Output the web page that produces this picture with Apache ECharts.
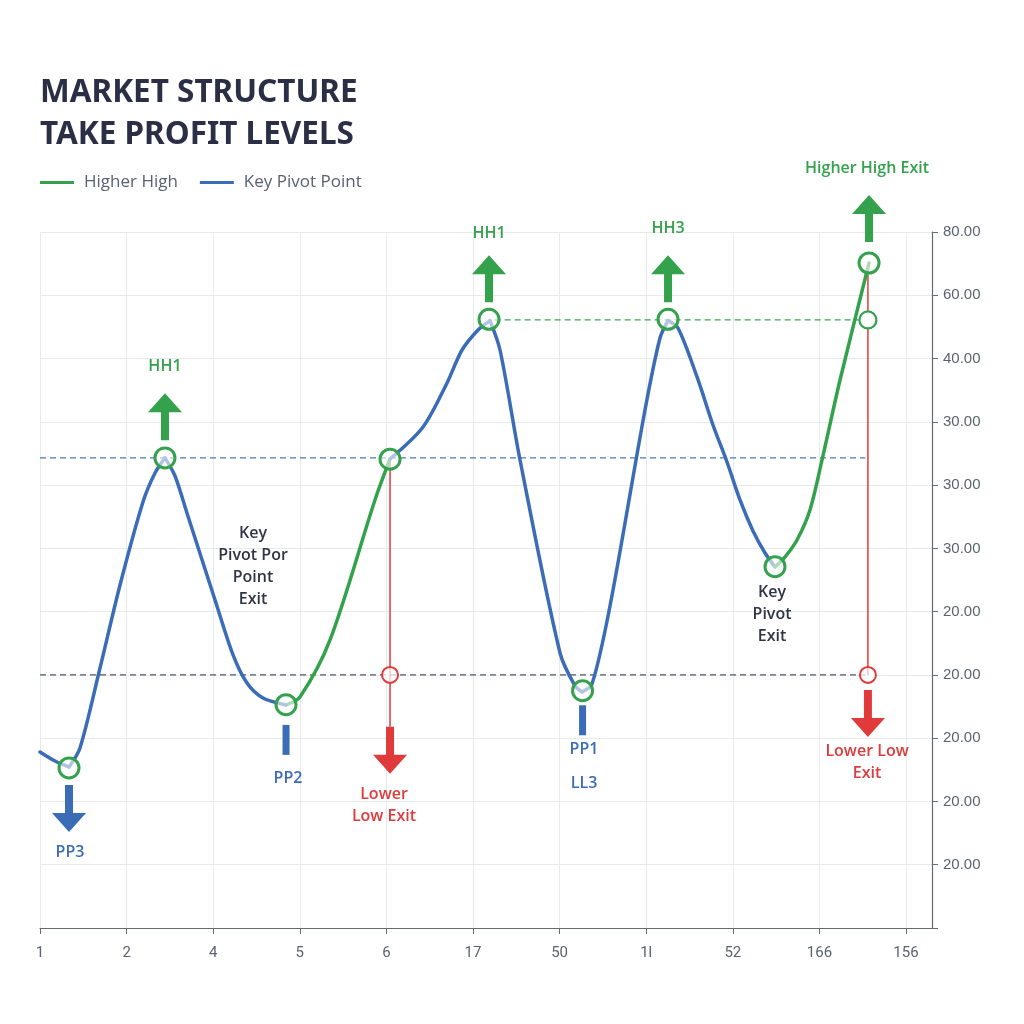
<!DOCTYPE html>
<html>
<head>
<meta charset="utf-8">
<script src="https://cdn.jsdelivr.net/npm/echarts@6/dist/echarts.min.js"></script>
<style>html,body{margin:0;padding:0;background:#fff}#chart{width:1024px;height:1024px}</style>
</head>
<body>
<div id="chart"></div>
<script>
// ---- data ----
const xTickLabels = ['1','2','4','5','6','17','50','1l','52','166','156'];
const yTickLabels = ['','20.00','20.00','20.00','20.00','20.00','30.00','30.00','30.00','40.00','60.00','80.00'];

// price path, split at the marked swing points
const keyPivotA = [[0,2.782],[0.173,2.639],[0.335,2.545]];
const keyPivotB = [[0.335,2.545],[0.462,2.845],[0.693,4.109],[0.924,5.421],[1.189,6.733],[1.328,7.191],[1.443,7.43]];
const keyPivotC = [[1.443,7.43],[1.559,7.144],[1.697,6.559],[2.021,5.184],[2.229,4.315],[2.39,3.872],[2.575,3.635],[2.841,3.525]];
const higherHighA = [[2.841,3.525],[3.002,3.651],[3.349,4.552],[3.868,6.765],[4.042,7.413]];
const keyPivotD = [[4.042,7.413],[4.423,7.918],[4.70,8.614],[4.873,9.135],[5.058,9.452],[5.196,9.6]];
const keyPivotE = [[5.196,9.6],[5.312,9.135],[5.543,7.397],[6.005,4.346],[6.178,3.825],[6.259,3.73]];
const keyPivotF = [[6.259,3.73],[6.374,3.856],[6.582,5.089],[6.986,8.187],[7.159,9.325],[7.252,9.6]];
const keyPivotG = [[7.252,9.6],[7.367,9.483],[7.587,8.709],[7.771,7.95],[7.933,7.365],[8.083,6.765],[8.233,6.275],[8.372,5.927],[8.487,5.706]];
const higherHighB = [[8.487,5.706],[8.603,5.864],[8.741,6.132],[8.891,6.607],[9.03,7.397],[9.238,8.661],[9.573,10.51]];

const pivotMarkers = [[0.335,2.53],[1.443,7.43],[2.841,3.53],[4.042,7.41],[5.185,9.62],[6.265,3.75],[7.252,9.62],[8.487,5.71],[9.573,10.51]];
const exitMarkersGreen = [[9.56,9.61]];
const exitMarkersRed = [[4.042,4.0],[9.56,4.0]];

const levelBlue = [[0,7.43],[9.53,7.43]];
const levelGray = [[0,4.0],[9.53,4.0]];
const levelGreen = [[5.25,9.61],[9.53,9.61]];
const redDrop1 = [[4.042,7.41],[4.042,3.18]];
const redDrop2 = [[9.56,10.51],[9.56,4.0]];

// arrows: [x, tailY, direction(1 up, -1 down), kind]
const arrows = [[1.443,7.71,1,'green'],[5.185,9.89,1,'green'],[7.252,9.89,1,'green'],[9.573,10.84,1,'green'],[0.335,2.26,-1,'blue'],[4.042,3.18,-1,'red'],[9.56,3.76,-1,'red']];
// bars: [x, topY, kind]
const bars = [[2.841,3.21,'blue'],[6.265,3.52,'blue']];

// annotations: [x, y, text, kind]
const annotations = [
  [1.443,8.88,'HH1','green'],
  [5.185,10.97,'HH1','green'],
  [7.252,11.05,'HH3','green'],
  [9.55,12.01,'Higher High Exit','green'],
  [0.346,1.20,'PP3','blue'],
  [2.864,2.37,'PP2','blue'],
  [6.282,2.83,'PP1','blue'],
  [6.282,2.29,'LL3','blue'],
  [3.972,1.94,'Lower\nLow Exit','red'],
  [9.55,2.62,'Lower Low\nExit','red'],
  [2.46,5.72,'Key\nPivot Por\nPoint\nExit','dark'],
  [8.453,4.96,'Key\nPivot\nExit','dark']
];

// ---- styles ----
const C = {green:'#34a24c', blue:'#3b6cb7', red:'#e03a3a', dark:'#2f3447', gray:'#4f5a6b'};
const FONT = '"Open Sans", "Noto Sans", sans-serif';
const xTickValues = xTickLabels.map((_, i) => i);

const chart = echarts.init(document.getElementById('chart'));

function lineSeries(name, data, color) {
  return {
    name: name, type: 'line', data: data, smooth: 0.3, showSymbol: false, symbol: 'none',
    lineStyle: {color: color, width: 3.5, cap: 'round', join: 'round'}, itemStyle: {color: color}, z: 5, silent: true, animation: false
  };
}
function plainLine(data, color, width, type, z) {
  return {type:'line', data:data, showSymbol:false, symbol:'none', silent:true, animation:false,
    lineStyle:{color:color, width:width, type:type}, z:z};
}

const option = {
  backgroundColor: '#ffffff',
  animation: false,
  title: {
    text: 'MARKET STRUCTURE\nTAKE PROFIT LEVELS',
    left: 40, top: 72, padding: 0,
    textStyle: {fontSize: 31.5, fontWeight: 'bold', color: '#2a2f46', lineHeight: 42, fontFamily: '"Noto Sans", sans-serif'}
  },
  legend: {
    left: 40, top: 174, padding: 0,
    icon: 'rect', itemWidth: 34, itemHeight: 3, itemGap: 22,
    data: ['Higher High', 'Key Pivot Point'],
    textStyle: {fontSize: 17, color: '#596173', fontFamily: FONT, padding: [0, 0, 0, 5]}
  },
  grid: {left: 40, right: 92, top: 232, bottom: 96},
  xAxis: {
    type: 'value', min: 0, max: 10.3, interval: 1,
    axisLine: {show: true, onZero: false, lineStyle: {color: '#666a72', width: 1.2}},
    axisTick: {show: true, length: 6, customValues: xTickValues, lineStyle: {color: '#666a72'}},
    axisLabel: {
      margin: 18, fontSize: 15, color: '#5b6270', fontFamily: '"Liberation Sans Narrow", Roboto, sans-serif',
      customValues: xTickValues,
      formatter: v => (Number.isInteger(v) && xTickLabels[v] !== undefined) ? xTickLabels[v] : ''
    },
    splitLine: {show: true, lineStyle: {color: '#e8e9ec', width: 1}}
  },
  yAxis: {
    type: 'value', position: 'right', min: 0, max: 11, interval: 1,
    axisLine: {show: true, onZero: false, lineStyle: {color: '#666a72', width: 1.2}},
    axisTick: {show: true, length: 6, lineStyle: {color: '#666a72'}},
    axisLabel: {
      margin: 11, fontSize: 15, color: '#5b6270', fontFamily: '"Liberation Sans", Arial, sans-serif',
      formatter: v => (Number.isInteger(v) && yTickLabels[v] !== undefined) ? yTickLabels[v] : ''
    },
    splitLine: {show: true, lineStyle: {color: '#e8e9ec', width: 1}}
  },
  series: [
    plainLine(levelBlue, '#4a78b8', 1.3, [6,4], 2),
    plainLine(levelGray, '#4f5a6b', 1.3, [6,4], 2),
    plainLine(levelGreen, '#3aa650', 1.3, [6,4], 2),
    plainLine(redDrop1, C.red, 1.5, 'solid', 3),
    plainLine(redDrop2, C.red, 1.5, 'solid', 3),
    lineSeries('Higher High', higherHighA, C.green),
    lineSeries('Key Pivot Point', keyPivotA, C.blue),
    lineSeries('Key Pivot Point', keyPivotB, C.blue),
    lineSeries('Key Pivot Point', keyPivotC, C.blue),
    lineSeries('Key Pivot Point', keyPivotD, C.blue),
    lineSeries('Key Pivot Point', keyPivotE, C.blue),
    lineSeries('Key Pivot Point', keyPivotF, C.blue),
    lineSeries('Key Pivot Point', keyPivotG, C.blue),
    lineSeries('Higher High', higherHighB, C.green),
    {
      type: 'scatter', data: pivotMarkers, symbol: 'circle', symbolSize: 20, z: 8, silent: true,
      itemStyle: {color: 'rgba(255,255,255,0.6)', borderColor: C.green, borderWidth: 3, opacity: 1}
    },
    {
      type: 'scatter', data: exitMarkersGreen, symbol: 'circle', symbolSize: 17, z: 8, silent: true,
      itemStyle: {color: '#ffffff', borderColor: C.green, borderWidth: 2.2, opacity: 1}
    },
    {
      type: 'scatter', data: exitMarkersRed, symbol: 'circle', symbolSize: 16, z: 8, silent: true,
      itemStyle: {color: 'rgba(255,255,255,0.7)', borderColor: C.red, borderWidth: 2, opacity: 1}
    },
    {
      type: 'custom', z: 9, silent: true, clip: false,
      data: arrows.map(a => [a[0], a[1], a[2]]),
      renderItem: function (params, api) {
        const a = arrows[params.dataIndex];
        const p = api.coord([api.value(0), api.value(1)]);
        const d = a[2] > 0 ? -1 : 1; // screen direction
        const L = 47, H = 19, HW = 17, SW = 4;
        const x = p[0], y0 = p[1], yb = y0 + d * (L - H), yt = y0 + d * L;
        return {
          type: 'polygon',
          shape: {points: [[x - SW, y0], [x + SW, y0], [x + SW, yb], [x + HW, yb], [x, yt], [x - HW, yb], [x - SW, yb]]},
          style: {fill: C[a[3]]}
        };
      }
    },
    {
      type: 'custom', z: 9, silent: true, clip: false,
      data: bars.map(b => [b[0], b[1]]),
      renderItem: function (params, api) {
        const b = bars[params.dataIndex];
        const p = api.coord([api.value(0), api.value(1)]);
        return {type: 'rect', shape: {x: p[0] - 3.5, y: p[1], width: 7, height: 30}, style: {fill: C[b[2]]}};
      }
    },
    {
      type: 'custom', z: 10, silent: true, clip: false,
      data: annotations.map(t => [t[0], t[1]]),
      renderItem: function (params, api) {
        const t = annotations[params.dataIndex];
        const p = api.coord([api.value(0), api.value(1)]);
        return {
          type: 'text', x: p[0], y: p[1],
          style: {
            text: t[2], fill: C[t[3]], fontSize: 16, fontWeight: 600, fontFamily: FONT,
            align: 'center', verticalAlign: 'middle', lineHeight: 22
          }
        };
      }
    }
  ]
};
chart.setOption(option);
</script>
</body>
</html>
